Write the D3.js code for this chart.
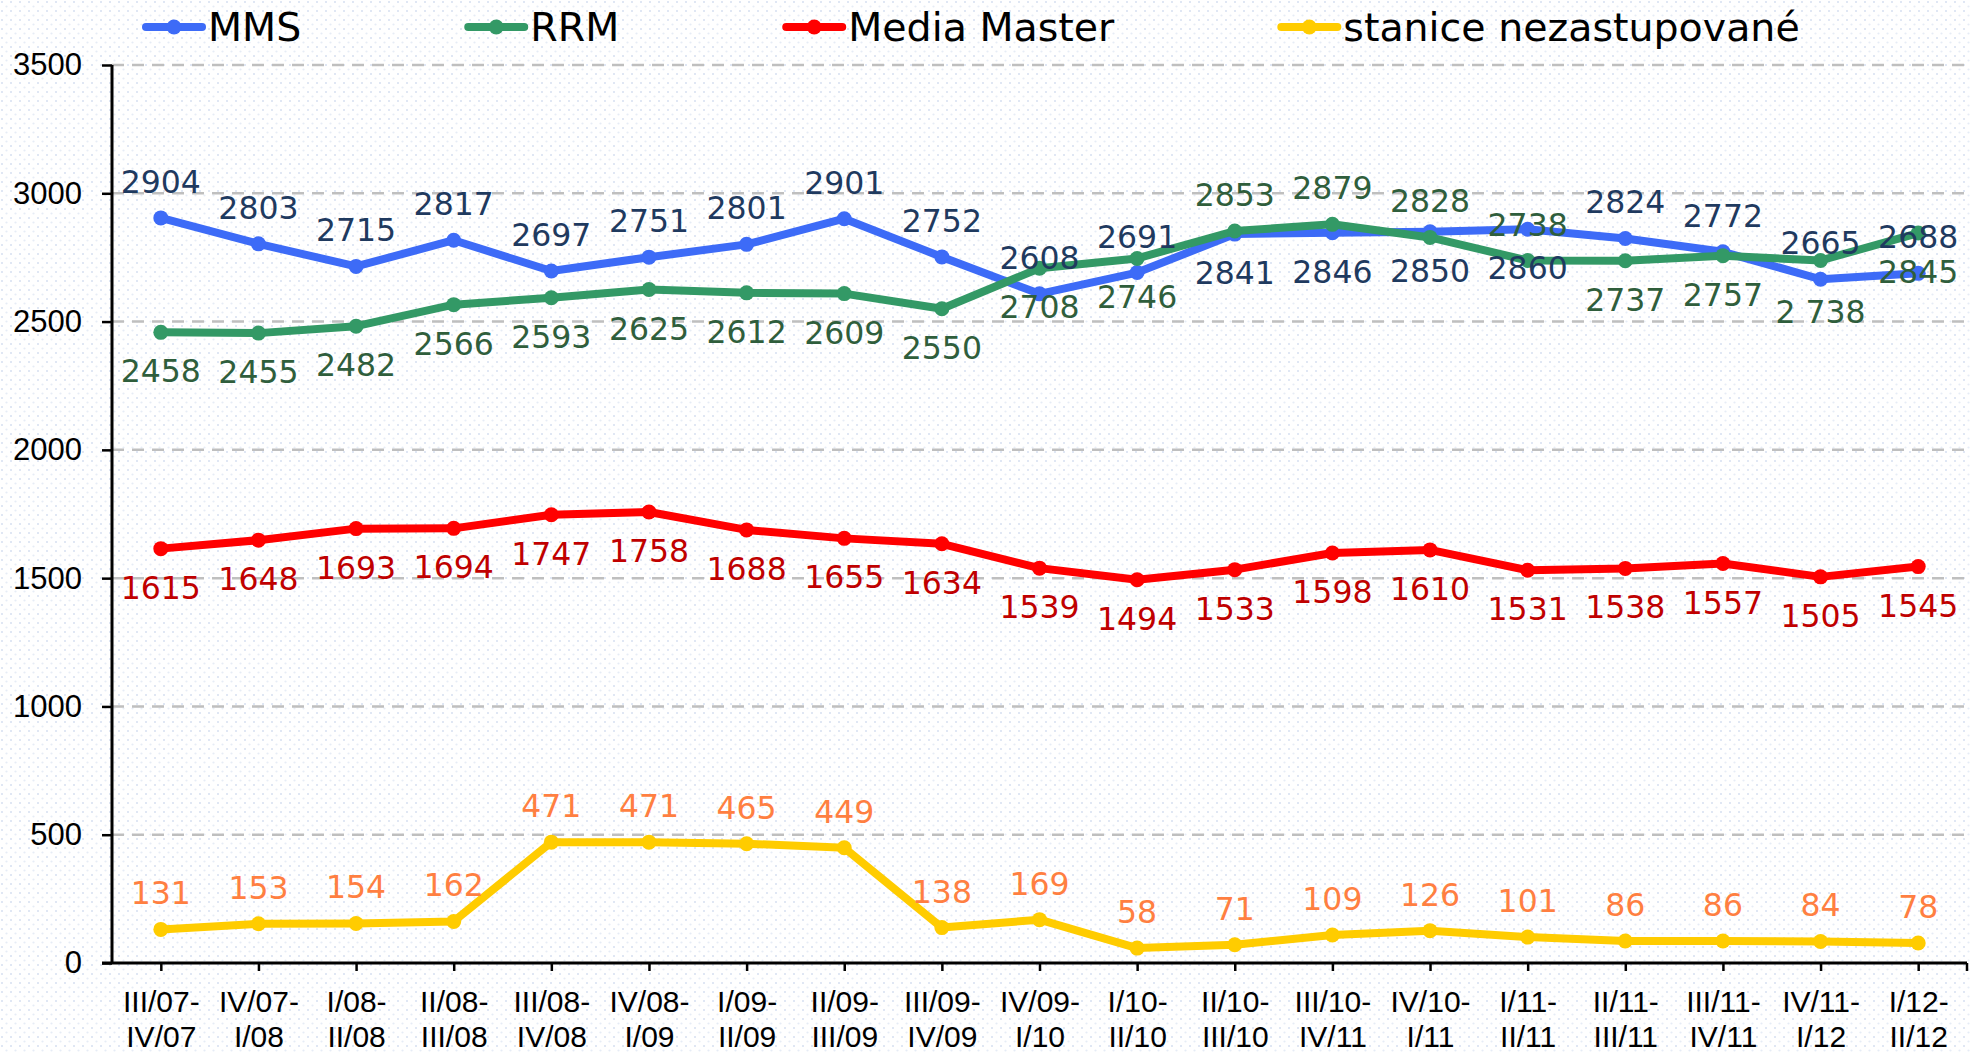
<!DOCTYPE html>
<html>
<head>
<meta charset="utf-8">
<script src="https://cdn.jsdelivr.net/npm/d3@7"></script>
<style>
  body { margin: 0; background: #fff; }
  svg { display: block; }
</style>
</head>
<body>
<script>

// kvartaly (x axis), two lines each
var periods = [
  ["III/07-", "IV/07"], ["IV/07-", "I/08"], ["I/08-", "II/08"], ["II/08-", "III/08"],
  ["III/08-", "IV/08"], ["IV/08-", "I/09"], ["I/09-", "II/09"], ["II/09-", "III/09"],
  ["III/09-", "IV/09"], ["IV/09-", "I/10"], ["I/10-", "II/10"], ["II/10-", "III/10"],
  ["III/10-", "IV/11"], ["IV/10-", "I/11"], ["I/11-", "II/11"], ["II/11-", "III/11"],
  ["III/11-", "IV/11"], ["IV/11-", "I/12"], ["I/12-", "II/12"]
];

var mms = [2904, 2803, 2715, 2817, 2697, 2751, 2801, 2901, 2752, 2608,
           2691, 2841, 2846, 2850, 2860, 2824, 2772, 2665, 2688];
var rrm = [2458, 2455, 2482, 2566, 2593, 2625, 2612, 2609, 2550, 2708,
           2746, 2853, 2879, 2828, 2738, 2737, 2757, 2738, 2845];
var mediaMaster = [1615, 1648, 1693, 1694, 1747, 1758, 1688, 1655, 1634, 1539,
                   1494, 1533, 1598, 1610, 1531, 1538, 1557, 1505, 1545];
var nezastupovane = [131, 153, 154, 162, 471, 471, 465, 449, 138, 169,
                     58, 71, 109, 126, 101, 86, 86, 84, 78];

var yTicks = [0, 500, 1000, 1500, 2000, 2500, 3000, 3500];

// points where the MMS / RRM labels trade places
var swapped = [11, 12, 13, 14];

var series = [
  {name: "MMS", values: mms, color: "#3d6bf7", labelColor: "#1f3a5f", pos: "above"},
  {name: "RRM", values: rrm, color: "#339966", labelColor: "#2f5e3c", pos: "below"},
  {name: "Media Master", values: mediaMaster, color: "#ff0000", labelColor: "#c00000", pos: "below"},
  {name: "stanice nezastupované", values: nezastupovane, color: "#ffcc00", labelColor: "#ff7f41", pos: "above"}
];

var W = 1970, H = 1052;
var margin = {left: 112, right: 3, top: 65, bottom: 89};

var svg = d3.select("body").append("svg")
            .attr("width", W)
            .attr("height", H);

// dotted background
var defs = svg.append("defs");
var pat = defs.append("pattern")
              .attr("id", "dots")
              .attr("width", 9)
              .attr("height", 9)
              .attr("patternUnits", "userSpaceOnUse");
pat.append("circle").attr("cx", 2).attr("cy", 2).attr("r", 1.1).attr("fill", "#d9e1f2");
pat.append("circle").attr("cx", 6.5).attr("cy", 6.5).attr("r", 1.1).attr("fill", "#e6ecf6");
svg.append("rect").attr("width", W).attr("height", H).attr("fill", "url(#dots)");

var x = d3.scalePoint()
          .domain(d3.range(periods.length))
          .range([margin.left, W - margin.right])
          .padding(0.5);

var y = d3.scaleLinear()
          .domain([0, 3500])
          .range([H - margin.bottom, margin.top]);

// grid
svg.append("g")
   .selectAll("line")
   .data(yTicks.filter(function(d) { return d > 0; }))
   .enter().append("line")
   .attr("x1", margin.left)
   .attr("x2", W - margin.right)
   .attr("y1", function(d) { return y(d); })
   .attr("y2", function(d) { return y(d); })
   .attr("stroke", "#bfbfbf")
   .attr("stroke-width", 2.5)
   .attr("stroke-dasharray", "12,8");

// y axis
var yAxis = svg.append("g")
   .attr("transform", "translate(" + margin.left + ",0)")
   .call(d3.axisLeft(y).tickValues(yTicks).tickFormat(d3.format("d")).tickSize(10).tickPadding(20));
yAxis.select(".domain").attr("stroke-width", 3).attr("d", "M0," + y(3500) + "V" + y(0));
yAxis.selectAll(".tick line").attr("stroke-width", 2.5);
yAxis.selectAll("text")
     .attr("font-family", "Liberation Sans, Arial, sans-serif")
     .attr("font-size", 31)
     .attr("fill", "#000");

// x axis
var xAxis = svg.append("g")
   .attr("transform", "translate(0," + y(0) + ")")
   .call(d3.axisBottom(x).tickSize(8).tickFormat(""));
xAxis.select(".domain").attr("stroke-width", 3)
     .attr("d", "M" + (margin.left - 10) + ",0H" + (W - margin.right));
xAxis.selectAll(".tick line").attr("stroke-width", 2.5);
xAxis.append("line")
     .attr("x1", W - margin.right).attr("x2", W - margin.right)
     .attr("y1", 0).attr("y2", 8)
     .attr("stroke", "#000").attr("stroke-width", 2.5);

var xl = xAxis.selectAll(".tick").append("text")
     .attr("fill", "#000")
     .attr("font-family", "Liberation Sans, Arial, sans-serif")
     .attr("font-size", 30)
     .attr("text-anchor", "middle");
xl.append("tspan").attr("x", 0).attr("y", 49).text(function(i) { return periods[i][0]; });
xl.append("tspan").attr("x", 0).attr("y", 84).text(function(i) { return periods[i][1]; });

// lines
var line = d3.line()
             .x(function(d, i) { return x(i); })
             .y(function(d) { return y(d); });

series.forEach(function(s) {
  var g = svg.append("g");
  g.append("path")
   .attr("d", line(s.values))
   .attr("fill", "none")
   .attr("stroke", s.color)
   .attr("stroke-width", 8)
   .attr("stroke-linejoin", "round");
  g.selectAll("circle")
   .data(s.values)
   .enter().append("circle")
   .attr("cx", function(d, i) { return x(i); })
   .attr("cy", function(d) { return y(d); })
   .attr("r", 7.5)
   .attr("fill", s.color);
});

// data labels
series.forEach(function(s, k) {
  svg.append("g")
     .selectAll("text")
     .data(s.values)
     .enter().append("text")
     .attr("x", function(d, i) { return x(i); })
     .attr("y", function(d, i) {
       var pos = s.pos;
       if (k < 2 && swapped.indexOf(i) >= 0) pos = (pos == "above") ? "below" : "above";
       // this one sits a bit lower in the original
       if (s.name == "RRM" && i == 17) return y(d) + 62;
       return pos == "above" ? y(d) - 25 : y(d) + 50;
     })
     .attr("text-anchor", "middle")
     .attr("font-family", "DejaVu Sans, Verdana, sans-serif")
     .attr("font-size", 31.5)
     .attr("fill", s.labelColor)
     .text(function(d, i) {
       if (s.name == "RRM" && i == 17) return "2 738";
       return d;
     });
});

// legend
var lx = 146;
series.forEach(function(s) {
  var g = svg.append("g").attr("transform", "translate(" + lx + ",27)");
  g.append("line")
   .attr("x1", 0).attr("x2", 56)
   .attr("stroke", s.color)
   .attr("stroke-width", 8)
   .attr("stroke-linecap", "round");
  g.append("circle").attr("cx", 28).attr("r", 7.5).attr("fill", s.color);
  var t = g.append("text")
           .attr("x", 62)
           .attr("y", 14)
           .attr("font-family", "DejaVu Sans, Verdana, sans-serif")
           .attr("font-size", 39.5)
           .attr("fill", "#000")
           .text(s.name);
  lx += 62 + t.node().getComputedTextLength() + 167;
});

</script>
</body>
</html>
